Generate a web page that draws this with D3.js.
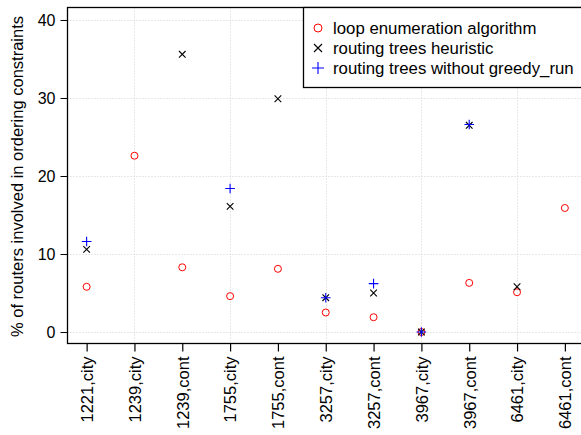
<!DOCTYPE html>
<html>
<head>
<meta charset="utf-8">
<script src="https://cdn.jsdelivr.net/npm/d3@7"></script>
<style>
  html, body { margin: 0; padding: 0; background: #fff; overflow: hidden; }
  svg { display: block; font-family: "Liberation Sans", Arial, Helvetica, sans-serif; }
</style>
</head>
<body>
<svg id="chart" width="581" height="435"></svg>
<script>
// ---- data ----
const categories = ["1221,city", "1239,city", "1239,cont", "1755,city", "1755,cont",
  "3257,city", "3257,cont", "3967,city", "3967,cont", "6461,city", "6461,cont"];
const loopEnumeration = [5.8, 22.6, 8.3, 4.6, 8.1, 2.5, 1.9, 0, 6.3, 5.1, 15.9];
const routingTreesHeuristic = [10.6, null, 35.6, 16.1, 29.9, 4.4, 5.0, 0, 26.5, 5.8, null];
const routingTreesNoGreedy = [11.6, null, null, 18.4, null, 4.4, 6.2, 0, 26.6, null, null];
const yTicks = [0, 10, 20, 30, 40];
const xGrid = [2, 4, 6, 8, 10];
const seriesNames = ["loop enumeration algorithm", "routing trees heuristic", "routing trees without greedy_run"];

// ---- layout ----
const svg = d3.select("#chart");
const pL = 67.5, pR = 584, pT = 7.5, pB = 343.5;
const x = d3.scaleLinear().domain([0.6, 11.4]).range([pL, pR]);
const y = d3.scaleLinear().domain([-1.47, 41.6]).range([pB, pT]);

// grid
const grid = svg.append("g").attr("stroke", "#d0d0d0").attr("stroke-width", 1).attr("stroke-dasharray", "1,2");
grid.selectAll("line.h").data(yTicks).enter().append("line")
  .attr("x1", pL).attr("x2", pR)
  .attr("y1", d => Math.round(y(d)) + 0.5).attr("y2", d => Math.round(y(d)) + 0.5);
grid.selectAll("line.v").data(xGrid).enter().append("line")
  .attr("y1", pT).attr("y2", pB)
  .attr("x1", d => Math.round(x(d)) + 0.5).attr("x2", d => Math.round(x(d)) + 0.5);

// axes
const yAxis = svg.append("g").attr("transform", `translate(${pL},0)`)
  .call(d3.axisLeft(y).tickValues(yTicks).tickSize(7).tickSizeOuter(0).tickPadding(5));
yAxis.select(".domain").remove();
yAxis.selectAll("text").attr("font-size", 16).attr("fill", "#000").attr("font-family", "Liberation Sans, Arial, sans-serif");
yAxis.selectAll("line").attr("stroke", "#000").attr("stroke-width", 1);

const xAxis = svg.append("g").attr("transform", `translate(0,${pB})`)
  .call(d3.axisBottom(x).tickValues(d3.range(1, categories.length + 1))
    .tickFormat(d => categories[d - 1]).tickSize(8).tickSizeOuter(0));
xAxis.select(".domain").remove();
xAxis.selectAll("line").attr("stroke", "#000").attr("stroke-width", 1.2);
xAxis.selectAll("text")
  .attr("font-size", 16.5).attr("fill", "#000").attr("font-family", "Liberation Sans, Arial, sans-serif")
  .attr("transform", "rotate(-90)")
  .attr("x", -13).attr("y", 0).attr("dy", "0.35em")
  .style("text-anchor", "end");

// plot box
svg.append("rect").attr("x", pL).attr("y", pT)
  .attr("width", pR - pL).attr("height", pB - pT)
  .attr("fill", "none").attr("stroke", "#000").attr("stroke-width", 1.3);

// y label
svg.append("text")
  .attr("transform", `translate(22.5,${(pT + pB) / 2 + 1}) rotate(-90)`)
  .attr("text-anchor", "middle").attr("font-size", 16.5).attr("fill", "#000")
  .text("% of routers involved in ordering constraints");

// markers
const marks = svg.append("g");
function circleMark(g, cx, cy, r) {
  g.append("circle").attr("cx", cx).attr("cy", cy).attr("r", r)
    .attr("fill", "none").attr("stroke", "#ff0000").attr("stroke-width", 1);
}
function xMark(g, cx, cy, s) {
  g.append("path").attr("d", `M${cx - s},${cy - s}L${cx + s},${cy + s}M${cx - s},${cy + s}L${cx + s},${cy - s}`)
    .attr("stroke", "#000").attr("stroke-width", 1.1).attr("fill", "none");
}
function plusMark(g, cx, cy, s) {
  g.append("path").attr("d", `M${cx - s},${cy}L${cx + s},${cy}M${cx},${cy - s}L${cx},${cy + s}`)
    .attr("stroke", "#0000ff").attr("stroke-width", 1.1).attr("fill", "none");
}
loopEnumeration.forEach((v, i) => { if (v != null) circleMark(marks, x(i + 1), y(v), 3.5); });
routingTreesHeuristic.forEach((v, i) => { if (v != null) xMark(marks, x(i + 1), y(v), 3.3); });
routingTreesNoGreedy.forEach((v, i) => { if (v != null) plusMark(marks, x(i + 1), y(v), 4.8); });

// legend
const lg = svg.append("g");
lg.append("rect").attr("x", 303.5).attr("y", pT).attr("width", pR - 303.5).attr("height", 87.5 - pT)
  .attr("fill", "#fff").attr("stroke", "#000").attr("stroke-width", 1.3);
const ly = [28, 48, 68];
circleMark(lg, 318, ly[0], 4);
xMark(lg, 318, ly[1], 4);
plusMark(lg, 318, ly[2], 6);
lg.selectAll("text.l").data(seriesNames).enter().append("text")
  .attr("x", 333).attr("y", (d, i) => ly[i]).attr("dy", "0.35em")
  .attr("font-size", 16.8).attr("fill", "#000").text(d => d);
</script>
</body>
</html>
